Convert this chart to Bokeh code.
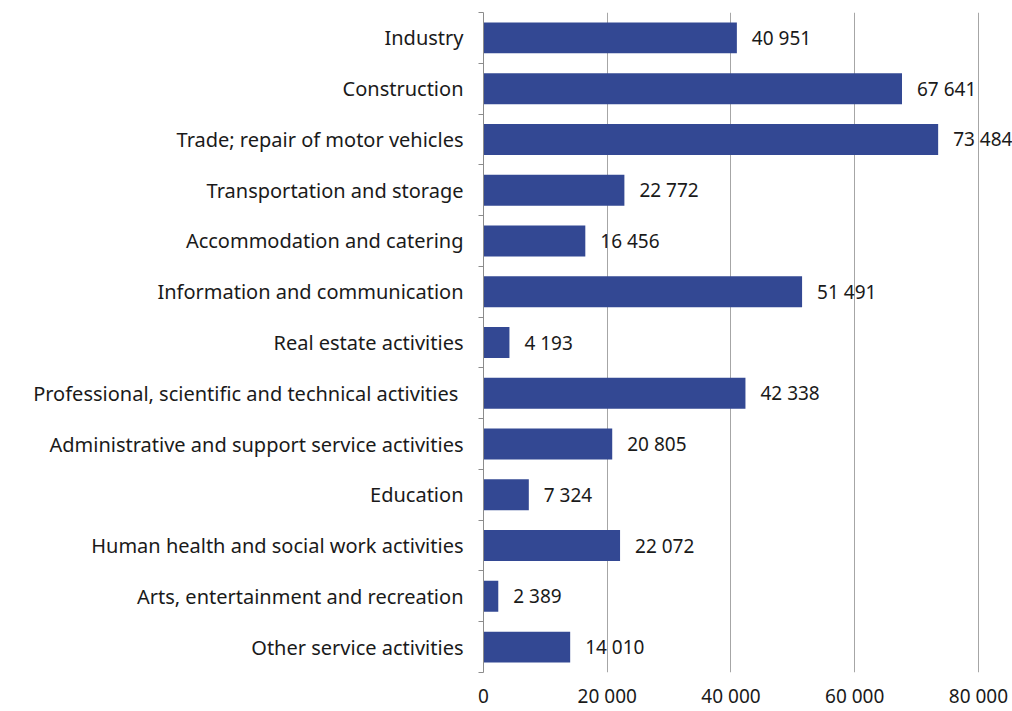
from bokeh.plotting import figure
from bokeh.models import ColumnDataSource, FixedTicker, Range1d
from bokeh.core.properties import value
from bokeh.embed import file_html
from bokeh.resources import INLINE

categories = [
    "Industry",
    "Construction",
    "Trade; repair of motor vehicles",
    "Transportation and storage",
    "Accommodation and catering",
    "Information and communication",
    "Real estate activities",
    "Professional, scientific and  technical activities",
    "Administrative and support service activities",
    "Education",
    "Human health and social work activities",
    "Arts, entertainment and recreation",
    "Other service activities",
]
values = [40951, 67641, 73484, 22772, 16456, 51491, 4193, 42338, 20805, 7324, 22072, 2389, 14010]
x_ticks = [0, 20000, 40000, 60000, 80000]

FONT = "Noto Sans"
FS_CAT = "20px"
FS_NUM = "19px"
BAR = "#334893"
TXT = "#1a1a1a"

n = len(categories)
ys = list(range(n))
labels = [f"{v:,}".replace(",", " ") for v in values]
src = ColumnDataSource(dict(y=ys, v=values, lab=labels))

p = figure(width=1012, height=711, output_backend="svg", toolbar_location=None,
           x_range=Range1d(0, 85500), y_range=Range1d(n - 0.5, -0.5),
           min_border_left=483, min_border_right=0, min_border_top=12, min_border_bottom=0)
p.outline_line_color = None
p.background_fill_color = "white"

p.hbar(y="y", right="v", left=0, height=0.61, source=src, color=BAR, line_color=None)
p.text(x="v", y="y", text="lab", source=src, x_offset=15, text_baseline="middle",
       text_font=value(FONT), text_font_size=FS_NUM, text_color=TXT)

# x axis
xa = p.xaxis[0]
xa.ticker = FixedTicker(ticks=x_ticks)
xa.major_label_overrides = {t: f"{t:,}".replace(",", " ") for t in x_ticks}
xa.axis_line_color = None
xa.major_tick_line_color = None
xa.major_tick_out = 0
xa.major_tick_in = 0
xa.minor_tick_line_color = None
xa.major_label_text_font = FONT
xa.major_label_text_font_size = FS_NUM
xa.major_label_text_color = TXT
xa.major_label_standoff = 10

# y axis
ya = p.yaxis[0]
ya.ticker = FixedTicker(ticks=ys, minor_ticks=[i - 0.5 for i in range(n + 1)])
ya.major_label_overrides = {i: c for i, c in enumerate(categories)}
ya.axis_line_color = "#8c8c8c"
ya.major_tick_line_color = None
ya.major_tick_out = 0
ya.major_tick_in = 0
ya.minor_tick_line_color = "#8c8c8c"
ya.minor_tick_out = 5
ya.minor_tick_in = 0
ya.major_label_text_font = FONT
ya.major_label_text_font_size = FS_CAT
ya.major_label_text_color = TXT
ya.major_label_standoff = 15

p.xgrid.ticker = FixedTicker(ticks=x_ticks[1:])
p.xgrid.grid_line_color = "#a6a6a6"
p.ygrid.grid_line_color = None

open("out.html", "w").write(file_html(p, INLINE))
